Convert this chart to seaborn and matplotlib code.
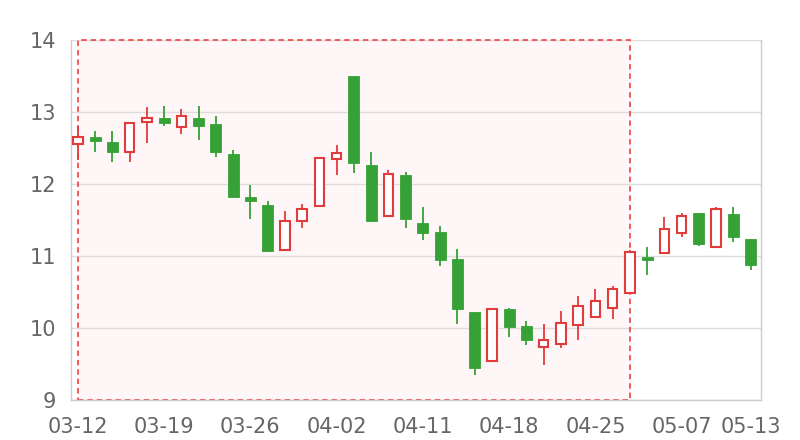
import matplotlib
matplotlib.use("Agg")
import matplotlib.pyplot as plt
from matplotlib.patches import Rectangle
import seaborn as sns
import pandas as pd

# Daily OHLC
dates = ["03-12", "03-13", "03-14", "03-15", "03-16",
         "03-19", "03-20", "03-21", "03-22", "03-23",
         "03-26", "03-27", "03-28", "03-29", "03-30",
         "04-02", "04-03", "04-04", "04-09", "04-10",
         "04-11", "04-12", "04-13", "04-16", "04-17",
         "04-18", "04-19", "04-20", "04-23", "04-24",
         "04-25", "04-26", "04-27", "05-02", "05-03",
         "05-07", "05-08", "05-09", "05-10", "05-13"]
opens = [12.56, 12.65, 12.58, 12.44, 12.86, 12.91, 12.79, 12.92, 12.84, 12.41,
         11.82, 11.71, 11.08, 11.48, 11.69, 12.35, 13.50, 12.26, 11.56, 12.12,
         11.46, 11.34, 10.96, 10.22, 9.54, 10.26, 10.03, 9.73, 9.78, 10.04,
         10.15, 10.28, 10.49, 10.98, 11.04, 11.32, 11.60, 11.12, 11.58, 11.23]
closes = [12.65, 12.60, 12.44, 12.85, 12.91, 12.85, 12.94, 12.81, 12.45, 11.82,
          11.76, 11.07, 11.49, 11.65, 12.36, 12.43, 12.29, 11.49, 12.14, 11.51,
          11.32, 10.95, 10.26, 9.44, 10.26, 10.01, 9.84, 9.83, 10.07, 10.30,
          10.38, 10.54, 11.06, 10.95, 11.37, 11.56, 11.17, 11.65, 11.27, 10.87]
lows = [12.33, 12.44, 12.31, 12.31, 12.57, 12.81, 12.69, 12.61, 12.38, 11.82,
        11.52, 11.06, 11.07, 11.39, 11.69, 12.13, 12.15, 11.47, 11.56, 11.39,
        11.22, 10.86, 10.05, 9.35, 9.54, 9.88, 9.77, 9.49, 9.72, 9.84,
        10.15, 10.13, 10.49, 10.74, 11.04, 11.26, 11.14, 11.12, 11.20, 10.80]
highs = [12.81, 12.74, 12.74, 12.86, 13.07, 13.08, 13.04, 13.08, 12.94, 12.47,
         11.98, 11.77, 11.63, 11.72, 12.36, 12.54, 13.50, 12.45, 12.20, 12.16,
         11.68, 11.41, 11.10, 10.22, 10.27, 10.28, 10.10, 10.06, 10.23, 10.44,
         10.54, 10.59, 11.09, 11.12, 11.54, 11.60, 11.60, 11.68, 11.68, 11.23]

up_color = "#e23b3b"
down_color = "#36a136"

df = pd.DataFrame({"date": dates, "open": opens, "close": closes,
                   "low": lows, "high": highs})
df["pos"] = range(len(df))
df["up"] = df["close"] >= df["open"]

sns.set_theme(style="white")
plt.rcParams["font.family"] = ["DejaVu Sans"]

fig = plt.figure(figsize=(8, 4.4), dpi=100)
ax = fig.add_axes([0.08875, 0.0909, 0.8625, 0.8182])

# highlighted range 03-12 .. 04-27
hl_end = dates.index("04-27")
ax.add_patch(Rectangle((0, 9), hl_end, 5, facecolor="#fff7f7",
                       edgecolor="none", zorder=0.2))
ax.add_patch(Rectangle((0, 9), hl_end, 5, fill=False, edgecolor="#f04e4e",
                       linestyle=(0, (3, 2.2)), linewidth=1.3,
                       zorder=1, clip_on=False))

# wicks
for up, grp in df.groupby("up"):
    col = up_color if up else down_color
    ax.vlines(grp["pos"], grp["low"], grp["high"], color=col,
              linewidth=1.3, zorder=2)

# bodies
dn = df[~df["up"]]
ax.bar(dn["pos"], (dn["open"] - dn["close"]).clip(lower=0.02), bottom=dn["close"],
       width=0.64, color=down_color, edgecolor=down_color, linewidth=0.6, zorder=3)
up = df[df["up"]]
ax.bar(up["pos"], (up["close"] - up["open"]).clip(lower=0.02), bottom=up["open"],
       width=0.56, color="white", edgecolor=up_color, linewidth=1.5, zorder=3)

ax.set_xlim(-0.4, len(df) - 0.4)
ax.set_ylim(9, 14)
ax.set_yticks([9, 10, 11, 12, 13, 14])
tick_idx = [0, 5, 10, 15, 20, 25, 30, 35, 39]
ax.set_xticks(tick_idx)
ax.set_xticklabels([dates[i] for i in tick_idx])

ax.yaxis.grid(True, color="#dddddd", linewidth=1)
ax.set_axisbelow(True)
for s in ax.spines.values():
    s.set_color("#cccccc")
    s.set_linewidth(1)
ax.spines["top"].set_visible(False)
ax.tick_params(axis="both", length=0, labelsize=15, colors="#666666")
ax.tick_params(axis="x", pad=12)
ax.tick_params(axis="y", pad=11)
ax.set_xlabel("")
ax.set_ylabel("")

fig.savefig("out.png", dpi=100)
